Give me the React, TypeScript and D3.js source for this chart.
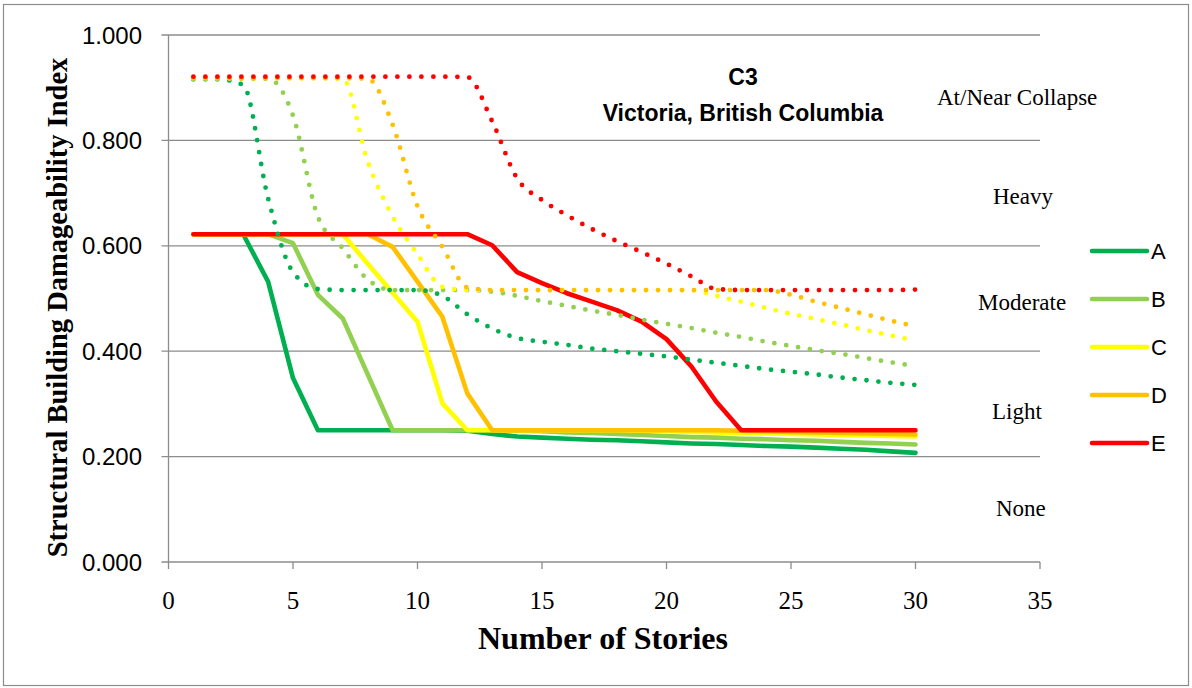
import React from "react";
import * as d3 from "d3";

// ---------- data ----------
const stories = [1, 2, 3, 4, 5, 6, 7, 8, 9, 10, 11, 12, 13, 14, 15, 16, 17, 18, 19, 20, 21, 22, 23, 24, 25, 26, 27, 28, 29, 30];

const seriesNames = ["A", "B", "C", "D", "E"];
const seriesColors = ["#00B050", "#92D050", "#FFFF00", "#FFC000", "#FF0000"];

// solid lines
const solidA = [0.622, 0.622, 0.622, 0.532, 0.349, 0.25, 0.25, 0.25, 0.25, 0.25, 0.25, 0.249, 0.243, 0.238, 0.236, 0.234, 0.232, 0.231, 0.229, 0.227, 0.225, 0.224, 0.222, 0.22, 0.219, 0.217, 0.215, 0.213, 0.21, 0.207];
const solidB = [0.622, 0.622, 0.622, 0.622, 0.605, 0.507, 0.462, 0.356, 0.25, 0.25, 0.25, 0.25, 0.25, 0.249, 0.248, 0.246, 0.245, 0.243, 0.241, 0.239, 0.237, 0.236, 0.234, 0.233, 0.231, 0.23, 0.228, 0.226, 0.225, 0.223];
const solidC = [0.622, 0.622, 0.622, 0.622, 0.622, 0.622, 0.622, 0.566, 0.511, 0.456, 0.301, 0.25, 0.25, 0.25, 0.25, 0.25, 0.25, 0.25, 0.249, 0.248, 0.247, 0.246, 0.245, 0.244, 0.243, 0.242, 0.241, 0.24, 0.239, 0.238];
const solidD = [0.622, 0.622, 0.622, 0.622, 0.622, 0.622, 0.622, 0.622, 0.598, 0.532, 0.465, 0.32, 0.25, 0.25, 0.25, 0.25, 0.25, 0.25, 0.25, 0.25, 0.25, 0.25, 0.249, 0.248, 0.247, 0.246, 0.245, 0.244, 0.243, 0.242];
const solidE = [0.622, 0.622, 0.622, 0.622, 0.622, 0.622, 0.622, 0.622, 0.622, 0.622, 0.622, 0.622, 0.601, 0.55, 0.529, 0.51, 0.494, 0.478, 0.456, 0.423, 0.371, 0.304, 0.25, 0.25, 0.25, 0.25, 0.25, 0.25, 0.25, 0.25];

// dotted lines
const dottedA = [0.916, 0.916, 0.905, 0.69, 0.55, 0.518, 0.516, 0.516, 0.516, 0.516, 0.505, 0.47, 0.443, 0.425, 0.418, 0.412, 0.405, 0.4, 0.395, 0.39, 0.384, 0.378, 0.372, 0.366, 0.361, 0.356, 0.35, 0.345, 0.34, 0.336];
const dottedB = [0.917, 0.917, 0.917, 0.917, 0.847, 0.655, 0.595, 0.536, 0.516, 0.516, 0.516, 0.516, 0.513, 0.505, 0.495, 0.486, 0.477, 0.469, 0.46, 0.452, 0.444, 0.435, 0.427, 0.418, 0.41, 0.402, 0.395, 0.387, 0.379, 0.372];
const dottedC = [0.918, 0.918, 0.918, 0.918, 0.918, 0.918, 0.917, 0.76, 0.656, 0.584, 0.522, 0.516, 0.516, 0.516, 0.516, 0.516, 0.516, 0.516, 0.516, 0.516, 0.516, 0.505, 0.494, 0.482, 0.471, 0.461, 0.451, 0.44, 0.43, 0.42];
const dottedD = [0.918, 0.918, 0.918, 0.918, 0.918, 0.918, 0.918, 0.917, 0.83, 0.675, 0.598, 0.521, 0.516, 0.516, 0.516, 0.516, 0.516, 0.516, 0.516, 0.516, 0.516, 0.516, 0.516, 0.516, 0.507, 0.494, 0.482, 0.47, 0.458, 0.447];
const dottedE = [0.921, 0.921, 0.921, 0.921, 0.921, 0.921, 0.921, 0.921, 0.921, 0.921, 0.921, 0.92, 0.836, 0.728, 0.687, 0.658, 0.632, 0.609, 0.588, 0.566, 0.542, 0.518, 0.516, 0.516, 0.516, 0.516, 0.516, 0.516, 0.516, 0.517];

const solidSeries = [solidA, solidB, solidC, solidD, solidE];
const dottedSeries = [dottedA, dottedB, dottedC, dottedD, dottedE];

const yTicks = [0, 0.2, 0.4, 0.6, 0.8, 1.0];
const xTicks = [0, 5, 10, 15, 20, 25, 30, 35];

const damageLabels = ["At/Near Collapse", "Heavy", "Moderate", "Light", "None"];

const titleLine1 = "C3";
const titleLine2 = "Victoria, British Columbia";
const xTitle = "Number of Stories";
const yTitle = "Structural Building Damageability Index";

// ---------- layout ----------
const W = 1192;
const H = 688;
const plotLeft = 168.5;
const plotRight = 1040;
const plotTop = 35;
const plotBottom = 562;

const gridColor = "#8c8c8c";
const serif = "'Liberation Serif', 'Times New Roman', serif";
const sans = "'Liberation Sans', Arial, sans-serif";

// label placements (pixel layout for the damage-state annotations)
const damageLabelPos = [
  { x: 937, y: 105 },
  { x: 993, y: 204 },
  { x: 978, y: 310 },
  { x: 992, y: 419 },
  { x: 996, y: 516 },
];

export default function App() {
  const x = d3.scaleLinear().domain([0, 35]).range([plotLeft, plotRight]);
  const y = d3.scaleLinear().domain([0, 1]).range([plotBottom, plotTop]);

  const solidLine = d3
    .line<number>()
    .x((_, i) => x(stories[i]))
    .y((d) => y(d))
    .curve(d3.curveLinear);

  const dottedLine = d3
    .line<number>()
    .x((_, i) => x(stories[i]))
    .y((d) => y(d))
    .curve(d3.curveMonotoneX);

  const legendY = [251, 299, 347, 395, 443];

  return (
    <svg
      width={W}
      height={H}
      style={{ position: "absolute", left: 0, top: 0, background: "#fff" }}
    >
      <rect x={0} y={0} width={W} height={H} fill="#fff" />
      <rect x={3.5} y={4.5} width={1185} height={681} fill="none" stroke="#8c8c8c" strokeWidth={1.2} />

      {/* gridlines */}
      {yTicks.map((t) => (
        <line
          key={"g" + t}
          x1={plotLeft - 7}
          x2={plotRight}
          y1={y(t)}
          y2={y(t)}
          stroke={gridColor}
          strokeWidth={1.3}
        />
      ))}
      {/* y axis */}
      <line x1={plotLeft} x2={plotLeft} y1={plotTop} y2={plotBottom} stroke={gridColor} strokeWidth={1.3} />
      {/* x ticks */}
      {xTicks.map((t) => (
        <line key={"xt" + t} x1={x(t)} x2={x(t)} y1={plotBottom} y2={plotBottom + 7} stroke={gridColor} strokeWidth={1.3} />
      ))}

      {/* y tick labels */}
      {yTicks.map((t) => (
        <text
          key={"yl" + t}
          x={142}
          y={y(t) + 8.5}
          textAnchor="end"
          fontFamily={sans}
          fontSize={24}
          fill="#000"
        >
          {d3.format(".3f")(t)}
        </text>
      ))}
      {/* x tick labels */}
      {xTicks.map((t) => (
        <text
          key={"xl" + t}
          x={x(t)}
          y={609}
          textAnchor="middle"
          fontFamily={serif}
          fontSize={25}
          fill="#000"
        >
          {t}
        </text>
      ))}

      {/* axis titles */}
      <text x={603} y={649} textAnchor="middle" fontFamily={serif} fontWeight="bold" fontSize={32} fill="#000">
        {xTitle}
      </text>
      <text
        transform={`translate(67, ${(plotTop + plotBottom) / 2 + 9}) rotate(-90)`}
        textAnchor="middle"
        fontFamily={serif}
        fontWeight="bold"
        fontSize={28.5}
        fill="#000"
      >
        {yTitle}
      </text>

      {/* solid series */}
      {solidSeries.map((s, i) => (
        <path
          key={"s" + i}
          d={solidLine(s) || ""}
          fill="none"
          stroke={seriesColors[i]}
          strokeWidth={4.6}
          strokeLinecap="round"
          strokeLinejoin="round"
        />
      ))}
      {/* dotted series */}
      {dottedSeries.map((s, i) => (
        <path
          key={"d" + i}
          d={dottedLine(s) || ""}
          fill="none"
          stroke={seriesColors[i]}
          strokeWidth={4.8}
          strokeLinecap="round"
          strokeDasharray="0 12"
        />
      ))}

      {/* chart title */}
      <text x={743} y={85} textAnchor="middle" fontFamily={sans} fontWeight="bold" fontSize={23} fill="#000">
        {titleLine1}
      </text>
      <text x={743} y={121} textAnchor="middle" fontFamily={sans} fontWeight="bold" fontSize={23} fill="#000">
        {titleLine2}
      </text>

      {/* damage state labels */}
      {damageLabels.map((l, i) => (
        <text
          key={"dl" + i}
          x={damageLabelPos[i].x}
          y={damageLabelPos[i].y}
          fontFamily={serif}
          fontSize={23}
          fill="#000"
        >
          {l}
        </text>
      ))}

      {/* legend */}
      {seriesNames.map((n, i) => (
        <g key={"lg" + n}>
          <line
            x1={1092}
            x2={1147}
            y1={legendY[i]}
            y2={legendY[i]}
            stroke={seriesColors[i]}
            strokeWidth={4.6}
            strokeLinecap="round"
          />
          <text x={1151} y={legendY[i] + 8} fontFamily={sans} fontSize={22} fill="#000">
            {n}
          </text>
        </g>
      ))}
    </svg>
  );
}
